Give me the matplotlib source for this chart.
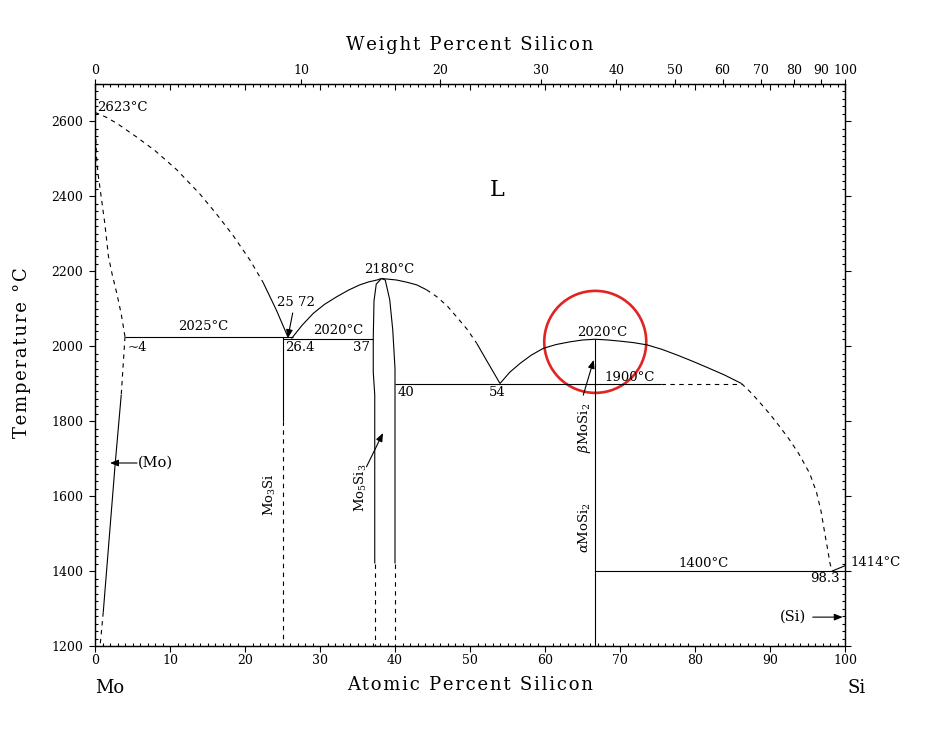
#!/usr/bin/env python3
"""Mo-Si phase diagram redrawn with matplotlib."""
import numpy as np
import matplotlib
matplotlib.use('Agg')
import matplotlib.pyplot as plt
from matplotlib.patches import Ellipse

plt.rcParams['font.family'] = ['DejaVu Serif']
plt.rcParams['mathtext.fontset'] = 'dejavuserif'

# --- phase boundaries (atomic % Si, temperature in C) ---
mo_liq_dash_x = [0, 1.5, 2.9, 5.5, 8.0, 10.9, 14.0, 16.2, 18.4, 20.7, 22.4]
mo_liq_dash_T = [2623, 2610, 2594, 2558, 2521, 2470, 2405, 2352, 2295, 2228, 2170]
mo_liq_solid_x = [22.4, 24.2, 25.7]
mo_liq_solid_T = [2170, 2095, 2025]

mo_sol_x = [0, 0.1, 0.2, 0.4, 0.7, 1.0, 1.3, 1.8, 2.3, 2.9, 3.5, 4.0]
mo_sol_T = [2623, 2560, 2505, 2460, 2416, 2372, 2328, 2238, 2190, 2141, 2085, 2025]

mo_solvus_top_x = [4.0, 3.5]
mo_solvus_top_T = [2025, 1870]
mo_solvus_x = [3.5, 2.7, 1.1]
mo_solvus_T = [1870, 1688, 1290]
mo_solvus_low_x = [1.1, 0.7]
mo_solvus_low_T = [1290, 1205]

t_peritectic = 2025
peritectic_x = [4.0, 26.4]
t_eut1 = 2020
eut1_x = [25.0, 37.1]

mo3si_x = 25.0
mo3si_solid_T = [2025, 1800]
mo3si_dash_T = [1800, 1200]

m53_liq_left_x = [26.2, 27.6, 29.1, 30.6, 32.2, 33.8, 35.3, 36.5, 37.6, 38.2]
m53_liq_left_T = [2020, 2055, 2087, 2111, 2131, 2149, 2163, 2171, 2176, 2180]
m53_liq_right_x = [38.2, 40.2, 41.6, 42.9, 44.2]
m53_liq_right_T = [2180, 2176, 2170, 2163, 2150]
m53_liq_dash_x = [44.2, 45.6, 47.0, 48.2, 49.6, 50.9]
m53_liq_dash_T = [2150, 2131, 2106, 2078, 2045, 2007]
m53_liq_end_x = [50.9, 52.4, 54.0]
m53_liq_end_T = [2007, 1955, 1900]

m53_left_x = [37.3, 37.3, 37.1, 37.1, 37.2, 37.5, 38.2]
m53_left_T = [1420, 1870, 1930, 2020, 2120, 2165, 2180]
m53_right_x = [38.2, 38.7, 39.3, 39.7, 40.0, 40.0]
m53_right_T = [2180, 2176, 2123, 2043, 1940, 1420]
m53_dash_x = [37.3, 40.0]
m53_dash_T = [1420, 1200]

t_eut2 = 1900
eut2_solid_x = [40.0, 75.5]
eut2_dash_x = [75.5, 86.2]

mosi2_liq_x = [54.0, 55.3, 56.7, 58.2, 59.8, 61.5, 63.3, 65.0, 66.7, 68.4, 70.0,
               71.8, 73.6, 75.6, 77.6, 79.6, 81.6, 83.9, 86.2]
mosi2_liq_T = [1900, 1930, 1954, 1976, 1994, 2004, 2011, 2016, 2018, 2016, 2013,
               2009, 2003, 1991, 1976, 1960, 1943, 1923, 1900]
si_liq_x = [86.2, 87.5, 88.7, 90.0, 91.3, 92.6, 93.8, 95.3, 96.2, 96.8, 97.3, 97.7, 98.0, 98.3]
si_liq_T = [1900, 1875, 1848, 1818, 1785, 1750, 1714, 1660, 1610, 1560, 1501, 1456, 1420, 1400]
si_melt_x = [98.3, 100.0]
si_melt_T = [1400, 1414]

mosi2_x = 66.7
mosi2_T = [1200, 2018]
t_eut3 = 1400
eut3_x = [66.7, 100.0]

# --- axis ticks ---
at_major = list(range(0, 101, 10))
at_minor = list(range(0, 101, 1))
t_major = list(range(1200, 2601, 200))
t_minor = list(range(1200, 2701, 20))
wt_labels = [0, 10, 20, 30, 40, 50, 60, 70, 80, 90, 100]


def wt_to_at(w):
    w = np.asarray(w, dtype=float)
    si = w / 28.086
    mo = (100 - w) / 95.95
    return 100 * si / (si + mo)


def spaced(s):
    # loose letter spacing like the original plotter lettering
    return '\u200a'.join(s)


fig = plt.figure(figsize=(9.26, 7.29), dpi=100)
ax = fig.add_axes([95 / 926, 83 / 729, 750 / 926, 562.5 / 729])
ax.set_xlim(0, 100)
ax.set_ylim(1200, 2700)

LW = 0.8
DASH = (0, (4, 4))


def solid(x, T):
    ax.plot(x, T, color='black', lw=LW, solid_capstyle='butt', solid_joinstyle='round')


def dashed(x, T):
    ax.plot(x, T, color='black', lw=LW, linestyle=DASH)


dashed(mo_liq_dash_x, mo_liq_dash_T)
solid(mo_liq_solid_x, mo_liq_solid_T)
dashed(mo_sol_x, mo_sol_T)
dashed(mo_solvus_top_x, mo_solvus_top_T)
solid(mo_solvus_x, mo_solvus_T)
dashed(mo_solvus_low_x, mo_solvus_low_T)
solid(peritectic_x, [t_peritectic] * 2)
solid(eut1_x, [t_eut1] * 2)
solid([mo3si_x] * 2, mo3si_solid_T)
dashed([mo3si_x] * 2, mo3si_dash_T)
solid(m53_liq_left_x, m53_liq_left_T)
solid(m53_liq_right_x, m53_liq_right_T)
dashed(m53_liq_dash_x, m53_liq_dash_T)
solid(m53_liq_end_x, m53_liq_end_T)
solid(m53_left_x, m53_left_T)
solid(m53_right_x, m53_right_T)
for xv in m53_dash_x:
    dashed([xv, xv], m53_dash_T)
solid(eut2_solid_x, [t_eut2] * 2)
dashed(eut2_dash_x, [t_eut2] * 2)
solid(mosi2_liq_x, mosi2_liq_T)
dashed(si_liq_x, si_liq_T)
solid(si_melt_x, si_melt_T)
solid([mosi2_x] * 2, mosi2_T)
solid(eut3_x, [t_eut3] * 2)

# labels
fs = 9.5
txt = dict(fontsize=fs, ha='center', va='center')
ax.text(0.27, 2637, '2623°C', fontsize=fs, ha='left', va='center')
ax.text(14.4, 2051, '2025°C', **txt)
ax.text(4.4, 1997, '~4', fontsize=fs, ha='left', va='center')
ax.text(26.8, 2115, '25 72', **txt)
ax.text(25.33, 1997, '26.4', fontsize=fs, ha='left', va='center')
ax.text(32.5, 2040, '2020°C', **txt)
ax.text(35.5, 1997, '37', **txt)
ax.text(39.2, 2203, '2180°C', **txt)
ax.text(41.5, 1877, '40', **txt)
ax.text(53.7, 1877, '54', **txt)
ax.text(67.7, 2037, '2020°C', **txt)
ax.text(71.3, 1917, '1900°C', **txt)
ax.text(81.1, 1421, '1400°C', **txt)
ax.text(97.3, 1379, '98.3', **txt)
ax.text(100.7, 1424, '1414°C', fontsize=fs, ha='left', va='center', clip_on=False)
ax.text(53.6, 2416, 'L', fontsize=16, ha='center', va='center')
ax.text(5.7, 1688, '(Mo)', fontsize=10.5, ha='left', va='center')
ax.text(93.1, 1277, '(Si)', fontsize=10.5, ha='center', va='center')
ax.text(23.3, 1605, 'Mo$_3$Si', fontsize=fs, ha='center', va='center', rotation=90)
ax.text(35.5, 1621, 'Mo$_5$Si$_3$', fontsize=fs, ha='center', va='center', rotation=90)
ax.text(65.3, 1781, r'$\beta$MoSi$_2$', fontsize=fs, ha='center', va='center', rotation=90)
ax.text(65.3, 1517, r'$\alpha$MoSi$_2$', fontsize=fs, ha='center', va='center', rotation=90)
ax.text(2.0, 1088, 'Mo', fontsize=13, ha='center', va='center', clip_on=False)
ax.text(101.5, 1088, 'Si', fontsize=13, ha='center', va='center', clip_on=False)

arrow = dict(arrowstyle='-|>,head_length=0.5,head_width=0.2', color='black', lw=0.8,
             shrinkA=0, shrinkB=0)
ax.annotate('', xy=(25.7, 2021), xytext=(26.36, 2088), arrowprops=arrow)
ax.annotate('', xy=(66.5, 1963), xytext=(65.1, 1869), arrowprops=arrow)
ax.annotate('', xy=(38.4, 1768), xytext=(36.2, 1678), arrowprops=arrow)
ax.annotate('', xy=(2.0, 1688), xytext=(5.6, 1688), arrowprops=arrow)
ax.annotate('', xy=(99.7, 1277), xytext=(95.7, 1277), arrowprops=arrow)

# red highlight circle around the MoSi2 congruent melting point
ax.add_patch(Ellipse((66.7, 2011), width=102 / 7.5, height=102 / 0.375,
                     fill=False, edgecolor='#e32222', lw=1.9, clip_on=False))

# ticks
ax.set_xticks(at_major)
ax.set_xticks(at_minor, minor=True)
ax.set_yticks(t_major)
ax.set_yticks(t_minor, minor=True)
ax.tick_params(axis='x', which='major', direction='out', length=4.5, width=0.8,
               labelsize=9, pad=1.5, top=False)
ax.tick_params(axis='x', which='minor', direction='in', length=2.2, width=0.8, top=False)
ax.tick_params(axis='y', which='major', direction='out', length=4.5, width=0.8,
               labelsize=9, pad=4, right=True)
ax.tick_params(axis='y', which='minor', direction='in', length=2.2, width=0.8, right=True)
for s in ax.spines.values():
    s.set_linewidth(0.9)

# top axis: atomic ticks pointing in
axt = ax.twiny()
axt.set_xlim(0, 100)
axt.set_xticks(at_major)
axt.set_xticks(at_minor, minor=True)
axt.tick_params(axis='x', which='major', direction='in', length=4.5, width=0.8, labeltop=False)
axt.tick_params(axis='x', which='minor', direction='in', length=2.2, width=0.8)

# top axis: weight percent labels pointing out
axw = ax.twiny()
axw.set_xlim(0, 100)
axw.set_xticks(wt_to_at(wt_labels))
axw.set_xticklabels([str(w) for w in wt_labels])
axw.tick_params(axis='x', which='major', direction='out', length=3.5, width=0.8,
                labelsize=9, pad=1.5)
axw.xaxis.set_minor_locator(matplotlib.ticker.NullLocator())

fig.text(470 / 926, 1 - 45 / 729, spaced('Weight Percent Silicon'), fontsize=13,
         ha='center', va='center')
fig.text(470 / 926, 1 - 685 / 729, spaced('Atomic Percent Silicon'), fontsize=13,
         ha='center', va='center')
fig.text(22 / 926, 1 - 353 / 729, spaced('Temperature °C'), fontsize=13, rotation=90,
         ha='center', va='center')

fig.savefig('out.png', dpi=100)
